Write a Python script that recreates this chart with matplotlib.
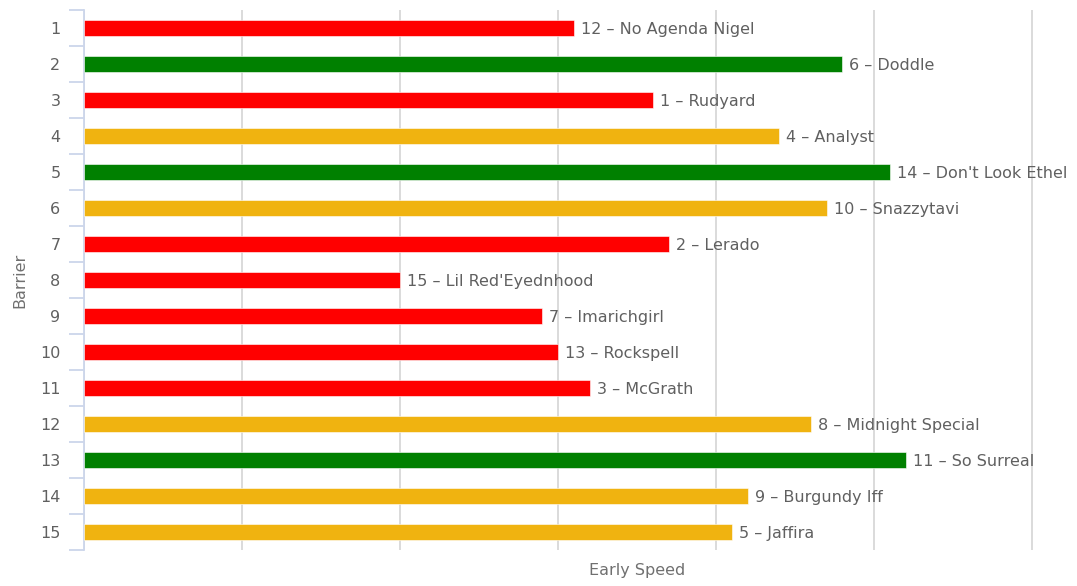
import matplotlib
matplotlib.use("Agg")
import matplotlib.pyplot as plt
from matplotlib.ticker import FixedLocator, NullFormatter

plt.rcParams["font.family"] = ["DejaVu Sans"]

# === data ===
barriers = [str(i) for i in range(1, 16)]
runners = ["12 – No Agenda Nigel", "6 – Doddle", "1 – Rudyard", "4 – Analyst",
           "14 – Don't Look Ethel", "10 – Snazzytavi", "2 – Lerado",
           "15 – Lil Red'Eyednhood", "7 – Imarichgirl", "13 – Rockspell",
           "3 – McGrath", "8 – Midnight Special", "11 – So Surreal",
           "9 – Burgundy Iff", "5 – Jaffira"]
early_speed = [62, 96, 72, 88, 102, 94, 74, 40, 58, 60, 64, 92, 104, 84, 82]
ratings = ["low", "high", "low", "mid", "high", "mid", "low", "low", "low",
           "low", "low", "mid", "high", "mid", "mid"]

colour_map = {"low": "#ff0000", "mid": "#f0b310", "high": "#008000"}
colours = [colour_map[r] for r in ratings]

W, H = 1077, 586
fig = plt.figure(figsize=(W / 100, H / 100), dpi=100)
# plot area runs past the right edge of the image, like the screenshot
ax = fig.add_axes([84 / W, 36 / H, 1106 / W, 540 / H])

y = list(range(len(barriers)))
ax.barh(y, early_speed, height=0.45, color=colours, edgecolor="white",
        linewidth=0.4, zorder=3)

for yi, v, name in zip(y, early_speed, runners):
    ax.annotate(name, (v, yi), xytext=(5, 0), textcoords="offset points",
                va="center_baseline", ha="left", fontsize=11.5, color="#606060",
                annotation_clip=False)

ax.set_xlim(0, 140)
ax.set_ylim(len(barriers) - 0.5, -0.5)
ax.set_xticks(range(0, 141, 20))
ax.xaxis.set_major_formatter(NullFormatter())
ax.tick_params(axis="x", length=0)
ax.grid(axis="x", color="#d8d8d8", linewidth=1.3, zorder=0)

ax.set_yticks(y)
ax.set_yticklabels(barriers, fontsize=11.5, color="#606060")
ax.tick_params(axis="y", which="major", length=0, pad=17)
ax.yaxis.set_minor_locator(FixedLocator([i - 0.5 for i in range(len(barriers) + 1)]))
ax.tick_params(axis="y", which="minor", length=11, width=1.3, color="#ccd6eb")

for s in ["top", "right", "bottom"]:
    ax.spines[s].set_visible(False)
ax.spines["left"].set_color("#ccd6eb")
ax.spines["left"].set_linewidth(1.3)

ax.set_ylabel("Barrier", fontsize=11.5, color="#707070", labelpad=9)
ax.set_xlabel("Early Speed", fontsize=11.5, color="#707070", labelpad=6)

fig.savefig("out.png", dpi=100)
